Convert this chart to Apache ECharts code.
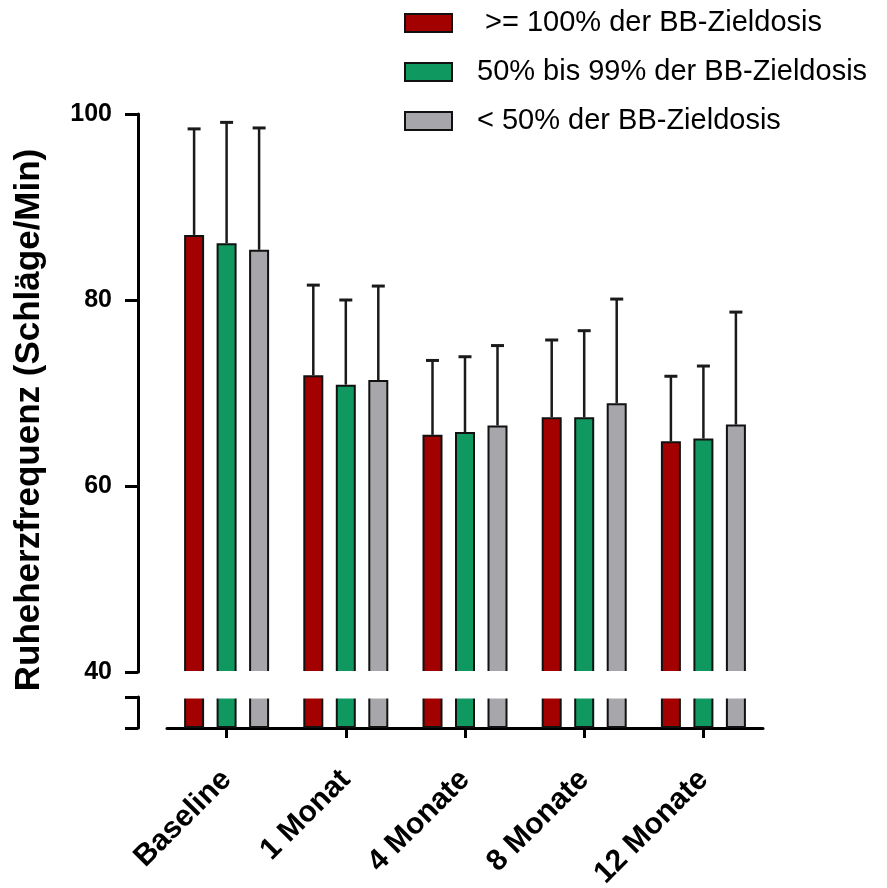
<!DOCTYPE html>
<html><head><meta charset="utf-8">
<script src="https://cdn.jsdelivr.net/npm/echarts@6/dist/echarts.min.js"></script>
<style>html,body{margin:0;padding:0;background:#fff}#c{width:887px;height:888px}</style>
</head><body><div id="c"></div>
<script>
const categories = ['Baseline', '1 Monat', '4 Monate', '8 Monate', '12 Monate'];
const seriesNames = [' >= 100% der BB-Zieldosis', '50% bis 99% der BB-Zieldosis', '< 50% der BB-Zieldosis'];
const meanHigh = [87.0, 71.9, 65.5, 67.4, 64.8];
const meanMid  = [86.1, 70.9, 65.8, 67.4, 65.1];
const meanLow  = [85.4, 71.4, 66.5, 68.9, 66.6];
const sdHigh = [11.4, 9.7, 8.0, 8.3, 7.0];
const sdMid  = [13.0, 9.1, 8.1, 9.3, 7.8];
const sdLow  = [13.1, 10.1, 8.6, 11.2, 12.1];
const yTicksTop = [40, 60, 80, 100];
const yBreakLower = [0, 30];

const means = [meanHigh, meanMid, meanLow];
const sds = [sdHigh, sdMid, sdLow];
const colors = ['#A30000', '#0F9960', '#A7A7AB'];
const FONT = '"Liberation Sans", Arial, Helvetica, sans-serif';
const BAR_W = 20, BAR_GAP = 0.625;

const chart = echarts.init(document.getElementById('c'), null, {renderer: 'canvas'});

const series = [];
[0, 1].forEach(g => {
  means.forEach((m, k) => {
    series.push({
      type: 'bar', name: seriesNames[k], xAxisIndex: g, yAxisIndex: g,
      data: m, barWidth: BAR_W, barGap: (BAR_GAP * 100) + '%', clip: true,
      itemStyle: {color: colors[k], borderColor: '#111', borderWidth: 2},
      z: 2
    });
  });
});
function makeErr(k) {
  return {
    type: 'custom', xAxisIndex: 0, yAxisIndex: 0, z: 5, silent: true,
    data: categories.map((c, i) => [i, means[k][i], means[k][i] + sds[k][i]]),
    renderItem: (params, api) => {
      const off = (k - 1) * BAR_W * (1 + BAR_GAP);
      const p0 = api.coord([api.value(0), api.value(1)]);
      const p1 = api.coord([api.value(0), api.value(2)]);
      const x = p0[0] + off;
      return {type: 'group', children: [
        {type: 'line', shape: {x1: x, y1: p0[1], x2: x, y2: p1[1]}, style: {stroke: '#1a1a1a', lineWidth: 2.5}},
        {type: 'line', shape: {x1: x - 6.5, y1: p1[1], x2: x + 6.5, y2: p1[1]}, style: {stroke: '#1a1a1a', lineWidth: 3}}
      ]};
    }
  };
}
[0, 1, 2].forEach(k => series.push(makeErr(k)));

const axisLineStyle = {show: true, lineStyle: {color: '#000', width: 3}};
const tickStyle = {show: true, length: 13, lineStyle: {color: '#000', width: 3}};

chart.setOption({
  animation: false,
  backgroundColor: '#fff',
  textStyle: {fontFamily: FONT},
  legend: {
    orient: 'vertical', left: 399, top: 2, itemWidth: 47, itemHeight: 18, itemGap: 17,
    icon: 'rect', selectedMode: false, data: seriesNames,
    textStyle: {fontSize: 29, color: '#000', fontFamily: FONT, lineHeight: 32, padding: [0, 0, 0, 20]}
  },
  grid: [
    {left: 167, right: 124, top: 114, height: 558, containLabel: false, outerBoundsMode: 'none'},
    {left: 167, right: 124, top: 697, height: 31, containLabel: false, outerBoundsMode: 'none'}
  ],
  xAxis: [
    {gridIndex: 0, type: 'category', data: categories, show: false},
    {gridIndex: 1, type: 'category', data: categories,
     axisLine: axisLineStyle,
     axisTick: {show: true, alignWithLabel: true, length: 10, lineStyle: {color: '#000', width: 3}},
     axisLabel: {rotate: 45, fontSize: 30, fontWeight: 'bold', color: '#000', margin: 47, fontFamily: FONT}}
  ],
  yAxis: [
    {gridIndex: 0, type: 'value', min: yTicksTop[0], max: yTicksTop[yTicksTop.length - 1], interval: 20, offset: 29,
     axisLine: axisLineStyle, axisTick: tickStyle, splitLine: {show: false},
     axisLabel: {fontSize: 25, fontWeight: 'bold', color: '#000', margin: 26, fontFamily: FONT}},
    {gridIndex: 1, type: 'value', min: yBreakLower[0], max: yBreakLower[1], interval: 30, offset: 29,
     axisLine: axisLineStyle, axisTick: tickStyle, splitLine: {show: false}, axisLabel: {show: false}}
  ],
  graphic: [
    {type: 'rect', shape: {x: 160, y: 671, width: 612, height: 27.5}, style: {fill: '#fff'}, z: 100, silent: true},
    {type: 'text', x: 29, y: 420, rotation: Math.PI / 2, z: 100,
     style: {text: 'Ruheherzfrequenz (Schläge/Min)', fontSize: 35, fontWeight: 'bold', fontFamily: FONT,
             fill: '#000', align: 'center', verticalAlign: 'middle'}}
  ],
  series: series
});
</script></body></html>
